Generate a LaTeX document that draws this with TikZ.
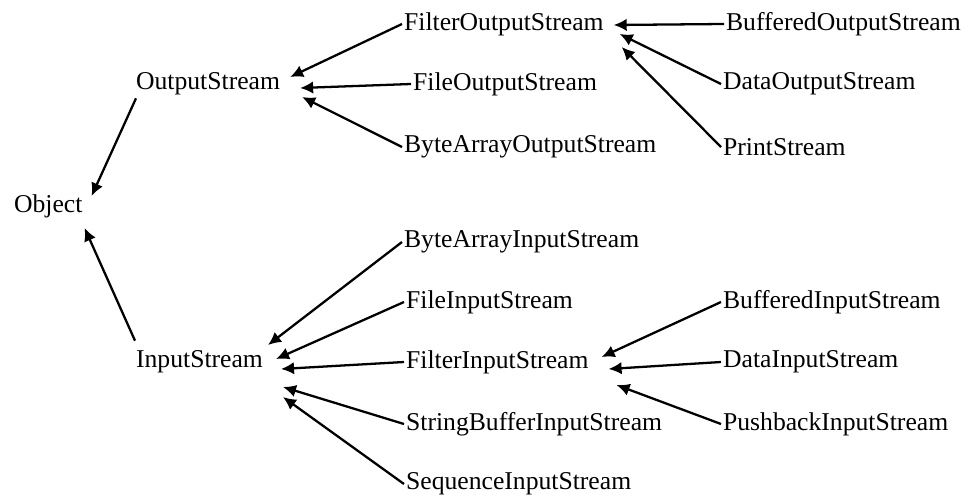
\documentclass[tikz,border=0pt]{standalone}
\usepackage{fontspec}
\setmainfont{Liberation Serif}
\usetikzlibrary{arrows.meta}
\begin{document}
\begin{tikzpicture}[every node/.style={anchor=west,inner sep=1pt,font=\fontsize{14.6}{17}\selectfont},
    arr/.style={-{Latex[length=2.6mm,width=2.5mm]},line width=1.3pt}]
    \def\x{0.02}
    \def\y{-0.02}
    \useasboundingbox (0,0) rectangle (965*\x, 498*\y);
    \node (A3_0) at (12*\x, 206*\y) {Object};
    \node (A1_1) at (134*\x, 84*\y) {OutputStream};
    \node (A6_1) at (134*\x, 362*\y) {InputStream};
    \node (A0_2) at (402*\x, 24*\y) {FilterOutputStream};
    \node (A1_2) at (411*\x, 84*\y) {FileOutputStream};
    \node (A2_2) at (402*\x, 147*\y) {ByteArrayOutputStream};
    \node (A0_3) at (724*\x, 24*\y) {BufferedOutputStream};
    \node (A1_3) at (721*\x, 84*\y) {DataOutputStream};
    \node (A2_3) at (721*\x, 147*\y) {PrintStream};
    \node (A4_2) at (402*\x, 242*\y) {ByteArrayInputStream};
    \node (A5_2) at (404*\x, 302*\y) {FileInputStream};
    \node (A6_2) at (404*\x, 362*\y) {FilterInputStream};
    \node (A7_2) at (404*\x, 424*\y) {StringBufferInputStream};
    \node (A8_2) at (404*\x, 484*\y) {SequenceInputStream};
    \node (A5_3) at (721*\x, 302*\y) {BufferedInputStream};
    \node (A6_3) at (721*\x, 362*\y) {DataInputStream};
    \node (A7_3) at (721*\x, 424*\y) {PushbackInputStream};
    % up to Object
    \path ([shift={(2*\x,1*\y)}]A1_1.south west) edge [arr] ([shift={(7*\x,-10*\y)}]A3_0.east);
    \path ([shift={(1*\x,-8*\y)}]A6_1.north west) edge [arr] ([shift={(0*\x,22*\y)}]A3_0.east);
    % output side
    \path (A0_2.west) edge [arr] ([shift={(8*\x,-7*\y)}]A1_1.east);
    \path (A1_2.west) edge [arr] ([shift={(18*\x,4*\y)}]A1_1.east);
    \path (A2_2.west) edge [arr] ([shift={(20*\x,13*\y)}]A1_1.east);
    \path (A0_3.west) edge [arr] ([shift={(8*\x,1*\y)}]A0_2.east);
    \path (A1_3.west) edge [arr] ([shift={(14*\x,10*\y)}]A0_2.east);
    \path (A2_3.west) edge [arr] ([shift={(16*\x,23*\y)}]A0_2.east);
    % input side
    \path (A4_2.west) edge [arr] ([shift={(3*\x,-17*\y)}]A6_1.east);
    \path (A5_2.west) edge [arr] ([shift={(11*\x,-3*\y)}]A6_1.east);
    \path (A6_2.west) edge [arr] ([shift={(16*\x,7*\y)}]A6_1.east);
    \path (A7_2.west) edge [arr] ([shift={(18*\x,25*\y)}]A6_1.east);
    \path (A8_2.west) edge [arr] ([shift={(18*\x,35*\y)}]A6_1.east);
    \path (A5_3.west) edge [arr] ([shift={(11*\x,-5*\y)}]A6_2.east);
    \path (A6_3.west) edge [arr] ([shift={(18*\x,7*\y)}]A6_2.east);
    \path (A7_3.west) edge [arr] ([shift={(26*\x,23*\y)}]A6_2.east);
\end{tikzpicture}
\end{document}
